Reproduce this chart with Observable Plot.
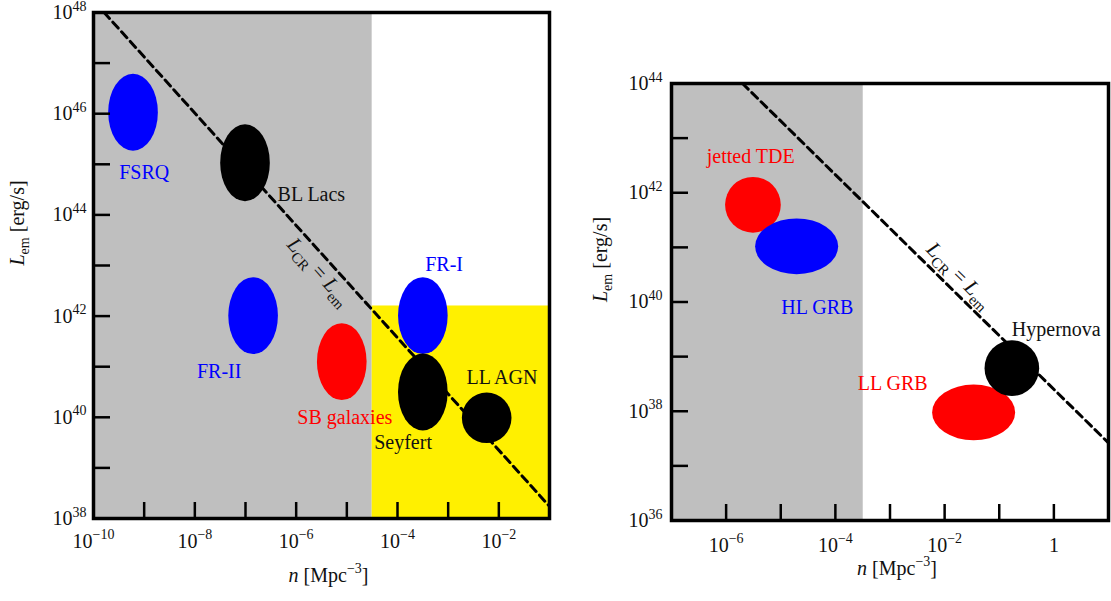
<!DOCTYPE html>
<html><head><meta charset="utf-8">
<script src="https://cdn.jsdelivr.net/npm/d3@7"></script>
<script src="https://cdn.jsdelivr.net/npm/@observablehq/plot@0.6"></script>
<style>
body{margin:0;background:#fff;}
#wrap{position:relative;width:1111px;height:601px;overflow:hidden;font-family:"Liberation Serif",serif;}
#left{position:absolute;left:0;top:0;}
#right{position:absolute;left:560px;top:0;}
</style></head><body><div id="wrap"><div id="left"></div><div id="right"></div></div>
<script>
// ---------- LEFT PANEL DATA ----------
const leftNames   = ["FSRQ","BL Lacs","FR-II","SB galaxies","FR-I","Seyfert","LL AGN"];
const leftN       = [10**-9.21, 10**-7.0, 10**-6.84, 10**-5.09, 10**-3.49, 10**-3.49, 10**-2.23];
const leftL       = [10**46.02, 10**45.02, 10**42.0, 10**41.09, 10**42.0, 10**40.49, 10**39.98];
const leftRxDex   = [0.49, 0.49, 0.49, 0.49, 0.49, 0.49, 0.49];
const leftRyDex   = [0.76, 0.76, 0.76, 0.76, 0.76, 0.76, 0.50];
const leftColors  = ["blue","black","blue","red","blue","black","black"];
const leftLabelN  = [10**-9.0, 10**-5.70, 10**-7.52, 10**-5.04, 10**-3.08, 10**-3.89, 10**-1.94];
const leftLabelL  = [10**44.84, 10**44.41, 10**40.9, 10**39.99, 10**43.01, 10**39.5, 10**40.79];
const leftLabelColors = ["blue","#111","blue","red","blue","#111","#111"];
const leftLineN   = [10**-9.79, 10**-1];
const leftLineL   = [10**48, 10**38.24];
const leftCRLabel = {n: 10**-5.55, L: 10**42.88, angle: 48};
const leftGray    = {n1: 1e-10, n2: 10**-4.5, L1: 1e38, L2: 1e48};
const leftYellow  = {n1: 10**-4.5, n2: 1e-1, L1: 1e38, L2: 10**42.2};
const leftXDomain = [1e-10, 1e-1];
const leftYDomain = [1e38, 1e48];
const leftXTicks  = [-10,-9,-8,-7,-6,-5,-4,-3,-2,-1].map(e => 10**e);
const leftXLabels = [-10,-8,-6,-4,-2].map(e => 10**e);
const leftYTicks  = [38,39,40,41,42,43,44,45,46,47,48].map(e => 10**e);
const leftYLabels = [38,40,42,44,46,48].map(e => 10**e);

// ---------- RIGHT PANEL DATA ----------
const rightNames  = ["jetted TDE","HL GRB","LL GRB","Hypernova"];
const rightN      = [10**-5.50, 10**-4.70, 10**-1.46, 10**-0.76];
const rightL      = [10**41.77, 10**41.01, 10**37.97, 10**38.78];
const rightRxDex  = [0.51, 0.76, 0.76, 0.50];
const rightRyDex  = [0.51, 0.51, 0.51, 0.51];
const rightColors = ["red","blue","red","black"];
const rightLabelN = [10**-5.55, 10**-4.33, 10**-2.95, 10**0.044];
const rightLabelL = [10**42.66, 10**39.90, 10**38.50, 10**39.50];
const rightLabelColors = ["red","blue","red","#111"];
const rightLineN  = [10**-5.7, 10];
const rightLineL  = [10**44, 10**37.42];
const rightCRLabel = {n: 10**-1.73, L: 10**40.49, angle: 45};
const rightGray   = {n1: 1e-7, n2: 10**-3.49, L1: 1e36, L2: 1e44};
const rightXDomain = [1e-7, 10];
const rightYDomain = [1e36, 1e44];
const rightXTicks  = [-7,-6,-5,-4,-3,-2,-1,0,1].map(e => 10**e);
const rightXLabels = [-6,-4,-2,0].map(e => 10**e);
const rightYTicks  = [36,37,38,39,40,41,42,43,44].map(e => 10**e);
const rightYLabels = [36,38,40,42,44].map(e => 10**e);

const xAxisLabel = "*n* [Mpc^{−3}]";
const yAxisLabel = "*L*_{em} [erg/s]";
const crLabel    = "*L*_{CR} = *L*_{em}";

// ---------- helpers ----------
const fmtPow = d => { const e = Math.round(Math.log10(d)); return e === 0 ? "1" : `10^{${e < 0 ? "−" + (-e) : e}}`; };

function ellipses(ns, Ls, rxs, rys, fills) {
  return (index, scales) => {
    const g = d3.create("svg:g");
    ns.forEach((n, i) => {
      const cx = scales.x(n), cy = scales.y(Ls[i]);
      const rx = Math.abs(scales.x(n * 10 ** rxs[i]) - cx);
      const ry = Math.abs(scales.y(Ls[i] * 10 ** rys[i]) - cy);
      g.append("ellipse").attr("cx", cx).attr("cy", cy).attr("rx", rx).attr("ry", ry).attr("fill", fills[i]);
    });
    return g.node();
  };
}

function richify(svg) {
  svg.querySelectorAll("text").forEach(t => {
    const s = t.textContent;
    if (!/[\^_*]/.test(s)) return;
    const fs = parseFloat(getComputedStyle(t).fontSize) || 20;
    while (t.firstChild) t.removeChild(t.firstChild);
    const re = /\*([^*]+)\*|\^\{([^}]*)\}|_\{([^}]*)\}|([^*^_]+)/g;
    let m, shift = 0;
    while ((m = re.exec(s))) {
      const ts = document.createElementNS("http://www.w3.org/2000/svg", "tspan");
      let target = 0, txt, small = false, italic = false;
      if (m[1] !== undefined) { txt = m[1]; italic = true; }
      else if (m[2] !== undefined) { txt = m[2]; target = -0.42 * fs; small = true; }
      else if (m[3] !== undefined) { txt = m[3]; target = 0.25 * fs; small = true; }
      else txt = m[4];
      const dy = target - shift; shift = target;
      if (dy) ts.setAttribute("dy", dy);
      if (small) ts.setAttribute("font-size", 0.7 * fs);
      if (italic) ts.setAttribute("font-style", "italic");
      ts.setAttribute("style", "white-space:pre");
      ts.textContent = txt;
      t.appendChild(ts);
    }
  });
}

function panel(cfg) {
  const fw = cfg.width - cfg.ml - cfg.mr, fh = cfg.height - cfg.mt - cfg.mb;
  const labels = cfg.labelNames.map((name, i) => ({name, n: cfg.labelN[i], L: cfg.labelL[i], c: cfg.labelColors[i]}));
  const line = cfg.lineN.map((n, i) => ({n, L: cfg.lineL[i]}));
  const marks = [];
  cfg.regions.forEach(r => marks.push(Plot.rect([r], {x1: "n1", x2: "n2", y1: "L1", y2: "L2", fill: r.fill})));
  marks.push(Plot.line(line, {x: "n", y: "L", stroke: "black", strokeWidth: 3, strokeDasharray: "8,5"}));
  marks.push(ellipses(cfg.ellN, cfg.ellL, cfg.rx, cfg.ry, cfg.ellColors));
  marks.push(Plot.text(labels, {x: "n", y: "L", text: "name", fill: "c", fontSize: 20}));
  marks.push(Plot.text([cfg.cr], {x: "n", y: "L", text: () => crLabel, rotate: cfg.cr.angle, fill: "#111", fontSize: 21}));
  marks.push(Plot.tickX(cfg.xTicks, {x: d => d, insetTop: fh - 16, stroke: "black", strokeWidth: 2.5}));
  marks.push(Plot.tickY(cfg.yTicks, {y: d => d, insetRight: fw - 17, stroke: "black", strokeWidth: 2.5}));
  marks.push(Plot.axisX(cfg.xLabels, {anchor: "bottom", tickSize: 0, tickPadding: cfg.xPad, tickFormat: fmtPow, label: null, fontSize: 20, fill: "#111"}));
  marks.push(Plot.axisY(cfg.yLabels, {anchor: "left", tickSize: 0, tickPadding: cfg.yPad, tickFormat: fmtPow, label: null, fontSize: 20, fill: "#111"}));
  marks.push(Plot.text([yAxisLabel], {frameAnchor: "left", dx: cfg.yLabDx, rotate: -90, text: d => d, fontSize: 20, fill: "#111"}));
  marks.push(Plot.text([xAxisLabel], {frameAnchor: "bottom", dx: 7, dy: cfg.xLabDy, text: d => d, fontSize: 20, fill: "#111"}));
  marks.push(Plot.frame({stroke: "black", strokeWidth: 3.5}));
  const svg = Plot.plot({
    width: cfg.width, height: cfg.height,
    marginLeft: cfg.ml, marginRight: cfg.mr, marginTop: cfg.mt, marginBottom: cfg.mb,
    x: {type: "log", domain: cfg.xDomain},
    y: {type: "log", domain: cfg.yDomain},
    style: {fontFamily: '"Liberation Serif", serif', fontSize: "20px", overflow: "visible", background: "transparent"},
    marks
  });
  return svg;
}

const leftSvg = panel({
  width: 560, height: 601, ml: 93, mr: 11, mt: 12, mb: 83,
  xDomain: leftXDomain, yDomain: leftYDomain,
  regions: [{...leftGray, fill: "#bfbfbf"}, {...leftYellow, fill: "#fff000"}],
  lineN: leftLineN, lineL: leftLineL,
  ellN: leftN, ellL: leftL, rx: leftRxDex, ry: leftRyDex, ellColors: leftColors,
  labelNames: leftNames, labelN: leftLabelN, labelL: leftLabelL, labelColors: leftLabelColors,
  cr: leftCRLabel,
  xTicks: leftXTicks, yTicks: leftYTicks, xLabels: leftXLabels, yLabels: leftYLabels,
  xPad: 15, yPad: 7, yLabDx: -76, xLabDy: 63
});
const rightSvg = panel({
  width: 551, height: 601, ml: 111, mr: 3, mt: 83, mb: 81,
  xDomain: rightXDomain, yDomain: rightYDomain,
  regions: [{...rightGray, fill: "#bfbfbf"}],
  lineN: rightLineN, lineL: rightLineL,
  ellN: rightN, ellL: rightL, rx: rightRxDex, ry: rightRyDex, ellColors: rightColors,
  labelNames: rightNames, labelN: rightLabelN, labelL: rightLabelL, labelColors: rightLabelColors,
  cr: rightCRLabel,
  xTicks: rightXTicks, yTicks: rightYTicks, xLabels: rightXLabels, yLabels: rightYLabels,
  xPad: 17, yPad: 9, yLabDx: -71, xLabDy: 54
});
document.getElementById("left").appendChild(leftSvg);
document.getElementById("right").appendChild(rightSvg);
richify(leftSvg);
richify(rightSvg);
</script></body></html>
